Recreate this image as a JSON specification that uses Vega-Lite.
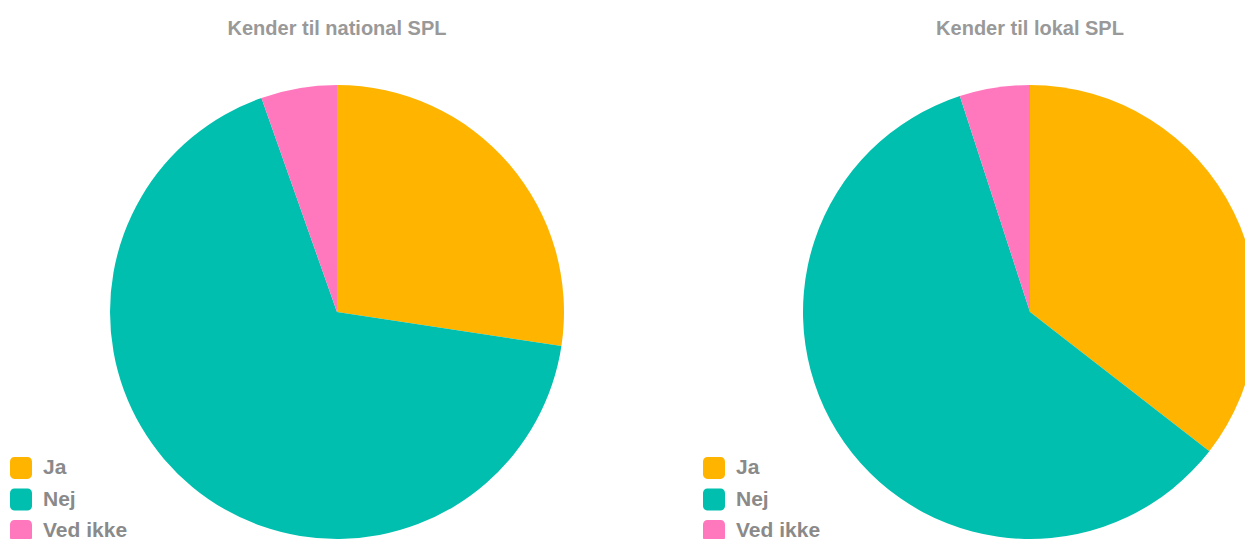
{
  "$schema": "https://vega.github.io/schema/vega-lite/v6.json",
  "padding": {"top": 19, "left": 0, "right": 0, "bottom": 0},
  "background": "white",
  "datasets": {
    "national": [
      {"svar": "Ja", "andel": 27.4, "orden": 1},
      {"svar": "Nej", "andel": 67.2, "orden": 2},
      {"svar": "Ved ikke", "andel": 5.4, "orden": 3}
    ],
    "lokal": [
      {"svar": "Ja", "andel": 35.5, "orden": 1},
      {"svar": "Nej", "andel": 59.5, "orden": 2},
      {"svar": "Ved ikke", "andel": 5.0, "orden": 3}
    ]
  },
  "config": {
    "view": {"stroke": null},
    "font": "Liberation Sans",
    "title": {"fontSize": 20, "fontWeight": "bold", "color": "#999999", "anchor": "middle", "offset": 46},
    "legend": {
      "orient": "none",
      "legendX": 10,
      "legendY": 372,
      "symbolType": "M -0.6,-1 H 0.6 A 0.4,0.4 0 0 1 1,-0.6 V 0.6 A 0.4,0.4 0 0 1 0.6,1 H -0.6 A 0.4,0.4 0 0 1 -1,0.6 V -0.6 A 0.4,0.4 0 0 1 -0.6,-1 Z",
      "symbolSize": 484,
      "symbolStrokeWidth": 0,
      "labelFontSize": 21,
      "labelFontWeight": "bold",
      "labelColor": "#8a8a8a",
      "labelOffset": 11,
      "rowPadding": 9.5
    }
  },
  "spacing": 19,
  "resolve": {"scale": {"color": "independent"}},
  "hconcat": [
    {
      "title": "Kender til national SPL",
      "width": 674,
      "height": 454,
      "data": {"name": "national"},
      "mark": {"type": "arc", "outerRadius": 227},
      "encoding": {
        "theta": {"field": "andel", "type": "quantitative", "stack": true},
        "order": {"field": "orden", "type": "quantitative"},
        "color": {
          "field": "svar",
          "type": "nominal",
          "scale": {"domain": ["Ja", "Nej", "Ved ikke"], "range": ["#FFB400", "#00BFAE", "#FF78BE"]},
          "legend": {"title": null}
        }
      }
    },
    {
      "title": "Kender til lokal SPL",
      "width": 674,
      "height": 454,
      "data": {"name": "lokal"},
      "mark": {"type": "arc", "outerRadius": 227},
      "encoding": {
        "theta": {"field": "andel", "type": "quantitative", "stack": true},
        "order": {"field": "orden", "type": "quantitative"},
        "color": {
          "field": "svar",
          "type": "nominal",
          "scale": {"domain": ["Ja", "Nej", "Ved ikke"], "range": ["#FFB400", "#00BFAE", "#FF78BE"]},
          "legend": {"title": null}
        }
      }
    }
  ]
}
